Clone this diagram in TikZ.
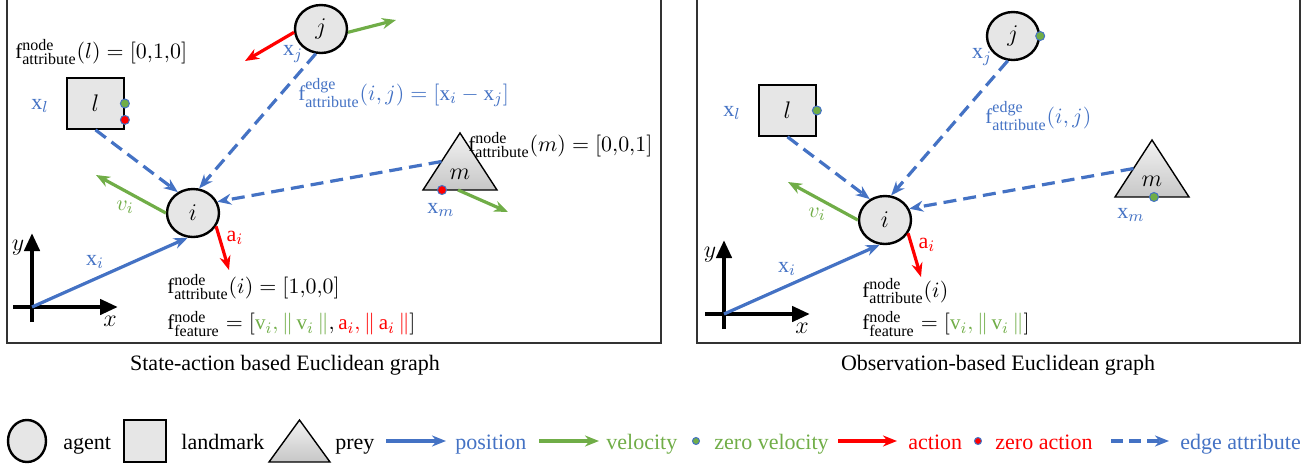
\documentclass[tikz,border=0pt]{standalone}
\usepackage{fontspec}
\setmainfont{Liberation Serif}
\usepackage{amsmath}
\DeclareMathSizes{10.5}{10.5}{8}{6}
\usetikzlibrary{
  arrows.meta,
  shapes.geometric,
  positioning,
  calc
}
\definecolor{egPos}{HTML}{4472C4}
\definecolor{egVel}{HTML}{70AD47}
\definecolor{egAct}{HTML}{FF0000}
\definecolor{egFill}{HTML}{E6E6E6}
\tikzset{
  agent/.style={
    draw, ellipse, line width=1.2pt, fill=egFill, inner sep=0pt,
    minimum width=26pt, minimum height=24pt, font=\fontsize{13}{15}\selectfont
  },
  landmark/.style={
    draw, line width=0.9pt, fill=egFill, inner sep=0pt,
    minimum width=28.5pt, minimum height=25.5pt, font=\fontsize{13}{15}\selectfont
  },
  prey/.style={draw, line width=0.7pt, top color=black!5, bottom color=black!22},
  preylabel/.style={font=\fontsize{13}{15}\selectfont, inner sep=0pt},
  posarrow/.style={-{Stealth[length=7pt, width=5.5pt]}, line width=1.6pt, egPos},
  velarrow/.style={posarrow, egVel},
  actarrow/.style={posarrow, egAct},
  edgearrow/.style={posarrow, dash pattern=on 6.5pt off 3.5pt},
  axisline/.style={-{Triangle[length=9pt, width=7.5pt]}, line width=2.2pt},
  zerovel/.style={circle, draw=egPos, line width=0.5pt, fill=egVel, inner sep=0pt, minimum size=4.5pt},
  zeroact/.style={zerovel, fill=egAct},
  attr/.style={font=\fontsize{10.5}{12.6}\selectfont, inner sep=0pt, anchor=west},
  vec/.style={font=\fontsize{11}{13}\selectfont, inner sep=0pt},
  axislabel/.style={font=\fontsize{12}{14}\selectfont, inner sep=0pt},
  panel/.style={line width=0.8pt, black!80},
  captext/.style={font=\fontsize{11}{13}\selectfont, anchor=base},
  legtext/.style={font=\fontsize{11}{13}\selectfont, anchor=base west, inner sep=0pt},
  legarrow/.style={line width=2.2pt}
}

\begin{document}
\begin{tikzpicture}[x=0.5pt, y=-0.5pt]
  \useasboundingbox (0,0) rectangle (1314,467);

  % frames
  \draw[panel] (7,-2) |- (661,343) -- (661,-2);
  \draw[panel] (697,-2) |- (1300,343) -- (1300,-2);

  % ---- state-action based graph ----
  \node[agent] (iL) at (193,213) {$i$};
  \node[agent] (jL) at (321,29) {$j$};
  \node[landmark] (lL) at (95.5,103.5) {$l$};
  \draw[prey] (423,190) -- (460,133) -- (497,190) -- cycle;
  \node[preylabel] (mL) at (460,174) {$m$};
  \coordinate (mLside) at (441.5,161.5);
  \coordinate (mLbase) at (458,190);
  \coordinate (oL) at (32,307);
  \coordinate (viL) at (96,175);
  \coordinate (aiL) at (229,270);
  \coordinate (ajL) at (245,61);
  \coordinate (vjL) at (396,20);
  \coordinate (vmL) at (508,212);

  \draw[axisline] (32,322) -- (32,233);
  \draw[axisline] (13,307) -- (118,307);
  \node[axislabel] at (18,248) {$y$};
  \node[axislabel] at (110,321) {$x$};

  \draw[edgearrow] (lL.south) -- (iL.126);
  \draw[edgearrow] (jL.258) -- (iL.76);
  \draw[edgearrow] (mLside) -- (iL.25);
  \draw[posarrow] (oL) -- (iL.258);
  \draw[velarrow] (iL.west) -- (viL);
  \draw[actarrow] (iL.330) -- (aiL);
  \draw[actarrow] (jL.187) -- (ajL);
  \draw[velarrow] (jL.353) -- (vjL);
  \draw[velarrow] (mLbase) -- (vmL);
  \node[zeroact] at (442,190) {};
  \node[zerovel] at (lL.east) {};
  \node[zeroact] at ($(lL.south east)+(0,-10)$) {};

  \node[vec, egPos] at (40,106) {$\mathrm{x}_l$};
  \node[vec, egPos] at (293,54) {$\mathrm{x}_j$};
  \node[vec, egPos] at (441,210) {$\mathrm{x}_m$};
  \node[vec, egPos] at (95,262) {$\mathrm{x}_i$};
  \node[vec, egVel] at (125,207) {$v_i$};
  \node[vec, egAct] at (235,238) {$\mathrm{a}_i$};
  \node[attr] at (15,52) {$\mathrm{f}^{\mathrm{node}}_{\mathrm{attribute}}(l)=[0{,}1{,}0]$};
  \node[attr, egPos] at (298,93) {$\mathrm{f}^{\mathrm{edge}}_{\mathrm{attribute}}(i,j)=[\mathrm{x}_i-\mathrm{x}_j]$};
  \node[attr] at (468,145) {$\mathrm{f}^{\mathrm{node}}_{\mathrm{attribute}}(m)=[0{,}0{,}1]$};
  \node[attr] at (167,287) {$\mathrm{f}^{\mathrm{node}}_{\mathrm{attribute}}(i)=[1{,}0{,}0]$};
  \node[attr] at (167,324) {$\mathrm{f}^{\mathrm{node}}_{\mathrm{feature}}=[\textcolor{egVel}{\mathrm{v}_i,\|\,\mathrm{v}_i\,\|},\textcolor{egAct}{\mathrm{a}_i,\|\,\mathrm{a}_i\,\|}]$};

  \node[captext] at (285,370) {State-action based Euclidean graph};

  % ---- observation-based graph ----
  \begin{scope}[shift={(692,7)}]
    \node[agent] (iR) at (193,213) {$i$};
    \node[agent] (jR) at (321,29) {$j$};
    \node[landmark] (lR) at (95.5,103.5) {$l$};
    \draw[prey] (423,190) -- (460,133) -- (497,190) -- cycle;
    \node[preylabel] (mR) at (460,174) {$m$};
    \coordinate (mRside) at (441.5,161.5);
    \coordinate (oR) at (32,307);
    \coordinate (viR) at (96,175);
    \coordinate (aiR) at (229,270);

    \draw[axisline] (32,322) -- (32,233);
    \draw[axisline] (13,307) -- (118,307);
    \node[axislabel] at (18,248) {$y$};
    \node[axislabel] at (110,321) {$x$};

    \draw[edgearrow] (lR.south) -- (iR.126);
    \draw[edgearrow] (jR.258) -- (iR.76);
    \draw[edgearrow] (mRside) -- (iR.25);
    \draw[posarrow] (oR) -- (iR.258);
    \draw[velarrow] (iR.west) -- (viR);
    \draw[actarrow] (iR.330) -- (aiR);
    \node[zerovel] at (lR.east) {};
    \node[zerovel] at (jR.east) {};
    \node[zerovel] at (462,190) {};

    \node[vec, egPos] at (40,106) {$\mathrm{x}_l$};
    \node[vec, egPos] at (290,50) {$\mathrm{x}_j$};
    \node[vec, egPos] at (439,208) {$\mathrm{x}_m$};
    \node[vec, egPos] at (95,262) {$\mathrm{x}_i$};
    \node[vec, egVel] at (125,207) {$v_i$};
    \node[vec, egAct] at (235,238) {$\mathrm{a}_i$};
    \node[attr, egPos] at (293,109) {$\mathrm{f}^{\mathrm{edge}}_{\mathrm{attribute}}(i,j)$};
    \node[attr] at (170,284) {$\mathrm{f}^{\mathrm{node}}_{\mathrm{attribute}}(i)$};
    \node[attr] at (170,317) {$\mathrm{f}^{\mathrm{node}}_{\mathrm{feature}}=[\textcolor{egVel}{\mathrm{v}_i,\|\,\mathrm{v}_i\,\|}]$};
  \end{scope}

  \node[captext] at (998,370) {Observation-based Euclidean graph};

  % ---- legend ----
  \node[agent, minimum width=19pt, minimum height=21pt] (lgAgent) at (27,441) {};
  \node[legtext] (lgAgentT) at (63,449) {agent};
  \node[landmark, minimum width=21pt, minimum height=21pt] (lgLand) at (145,441) {};
  \node[legtext] (lgLandT) at (181,449) {landmark};
  \draw[prey] (269,462) -- (299.5,420) -- (330,462) -- cycle;
  \node[legtext] (lgPreyT) at (335,449) {prey};
  \coordinate (lgPosA) at (386,441);
  \coordinate (lgPosB) at (446,441);
  \draw[posarrow, legarrow] (lgPosA) -- (lgPosB);
  \node[legtext, egPos] (lgPosT) at (455,449) {position};
  \coordinate (lgVelA) at (539,441);
  \coordinate (lgVelB) at (599,441);
  \draw[velarrow, legarrow] (lgVelA) -- (lgVelB);
  \node[legtext, egVel] (lgVelT) at (606,449) {velocity};
  \node[zerovel, minimum size=3.5pt] (lgZv) at (696,441) {};
  \node[legtext, egVel] (lgZvT) at (714,449) {zero velocity};
  \coordinate (lgActA) at (838,441);
  \coordinate (lgActB) at (897,441);
  \draw[actarrow, legarrow] (lgActA) -- (lgActB);
  \node[legtext, egAct] (lgActT) at (908,449) {action};
  \node[zeroact, minimum size=3.5pt] (lgZa) at (978,441) {};
  \node[legtext, egAct] (lgZaT) at (995,449) {zero action};
  \coordinate (lgEdgeA) at (1111,441);
  \coordinate (lgEdgeB) at (1169,441);
  \draw[edgearrow, legarrow, dash pattern=on 6pt off 3pt] (lgEdgeA) -- (lgEdgeB);
  \node[legtext, egPos] (lgEdgeT) at (1180,449) {edge attribute};
\end{tikzpicture}
\end{document}
